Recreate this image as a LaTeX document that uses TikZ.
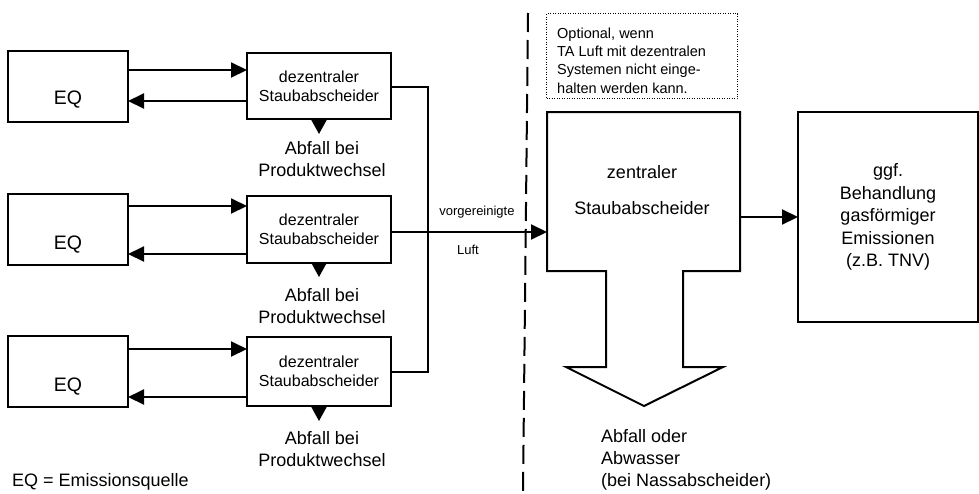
\documentclass[tikz,border=0pt]{standalone}
\usepackage{fontspec}
\setmainfont{Liberation Sans}
\usetikzlibrary{arrows.meta}
\begin{document}
\begin{tikzpicture}[x=1pt,y=-1pt,
  box/.style={draw, line width=2pt, inner sep=0pt, outer sep=0pt, anchor=north west},
  eqbox/.style={box, minimum width=120pt, minimum height=71pt},
  dzbox/.style={box, minimum width=144pt, minimum height=66pt, align=center, font=\fontsize{16}{19}\selectfont},
  arr/.style={line width=2pt, -{Triangle[length=16pt,width=15pt]}},
  ln/.style={line width=2pt},
  big/.style={font=\fontsize{18}{22}\selectfont, inner sep=0pt},
  small/.style={font=\fontsize{13}{16}\selectfont, inner sep=0pt},
  dashline/.style={line width=2pt, dash pattern=on 19pt off 8pt},
]
\useasboundingbox (0,0) rectangle (979,493);

% emission sources
\node[eqbox] (eq1) at (8,51) {};
\node[eqbox] (eq2) at (8,194) {};
\node[eqbox] (eq3) at (8,336) {};
\node[big, font=\fontsize{19.5}{22}\selectfont] (eqt1) at (68,100) {EQ};
\node[big, font=\fontsize{19.5}{22}\selectfont] (eqt2) at (68,245) {EQ};
\node[big, font=\fontsize{19.5}{22}\selectfont] (eqt3) at (68,387) {EQ};

% decentral dust separators
\node[dzbox] (dz1) at (247,53) {dezentraler\\Staubabscheider};
\node[dzbox, minimum height=67pt] (dz2) at (247,196) {dezentraler\\Staubabscheider};
\node[dzbox, minimum height=69pt] (dz3) at (247,337) {dezentraler\\Staubabscheider};

% helper heights
\coordinate (r1a) at (0,70);  \coordinate (r1b) at (0,101);
\coordinate (r2a) at (0,206); \coordinate (r2b) at (0,254);
\coordinate (r3a) at (0,349); \coordinate (r3b) at (0,397);

\draw[arr] (eq1.east |- r1a) -- (dz1.west |- r1a);
\draw[arr] (dz1.west |- r1b) -- (eq1.east |- r1b);
\draw[arr] (eq2.east |- r2a) -- (dz2.west |- r2a);
\draw[arr] (dz2.west |- r2b) -- (eq2.east |- r2b);
\draw[arr] (eq3.east |- r3a) -- (dz3.west |- r3a);
\draw[arr] (dz3.west |- r3b) -- (eq3.east |- r3b);

% waste outputs
\coordinate (w1) at (319,134);
\coordinate (w2) at (319,277);
\coordinate (w3) at (319,421);
\draw[line width=2pt, -{Triangle[length=15pt,width=16pt]}] (dz1.south) -- (w1);
\draw[line width=2pt, -{Triangle[length=15pt,width=16pt]}] (dz2.south) -- (w2);
\draw[line width=2pt, -{Triangle[length=15pt,width=16pt]}] (dz3.south) -- (w3);
\node[big, align=center] (ab1) at (322,159) {Abfall bei\\Produktwechsel};
\node[big, align=center] (ab2) at (322,306) {Abfall bei\\Produktwechsel};
\node[big, align=center] (ab3) at (322,449) {Abfall bei\\Produktwechsel};

% collecting line
\coordinate (b1) at (428,87);
\coordinate (b3) at (428,372);
\coordinate (bm) at (428,232);
\draw[ln, line join=miter] (dz1.east |- b1) -- (b1) -- (b3) -- (dz3.east |- b3);

% central separator
\node[anchor=north west, minimum width=193pt, minimum height=159pt, inner sep=0pt, outer sep=0pt] (zb) at (547,112) {};
\draw[ln, line join=miter] (zb.north west) -- (zb.north east) -- (zb.south east)
  -- (683,271) -- (683,367) -- (723,367) -- (644,406) -- (566,367) -- (606,367)
  -- (606,271) -- (zb.south west) -- cycle;
\node[big, align=center, font=\fontsize{18}{36}\selectfont] (zbt) at (642,190) {zentraler\\Staubabscheider};

\draw[arr] (dz2.east |- bm) -- (zb.west |- bm);
\node[small] (vg) at (477,212) {vorgereinigte};
\node[small] (lu) at (468,250) {Luft};

% treatment of gaseous emissions
\node[box, minimum width=180pt, minimum height=210pt, align=center, font=\fontsize{18}{22.5}\selectfont] (rb) at (798,112) {ggf.\\Behandlung\\gasförmiger\\Emissionen\\(z.B. TNV)};
\coordinate (g) at (0,217);
\draw[arr] (zb.east |- g) -- (rb.west |- g);

% optional note
\node[draw, line width=1pt, dash pattern=on 1pt off 1.5pt, anchor=north west, minimum width=191pt, minimum height=85pt, inner sep=0pt] (opt) at (546,13) {};
\node[anchor=west, align=left, inner sep=0pt, font=\fontsize{14.5}{18.3}\selectfont] (optt) at (557,60.5) {Optional, wenn\\TA Luft mit dezentralen\\Systemen nicht einge-\\halten werden kann.};

% waste water text
\node[big, anchor=west, align=left] (aw) at (601,460) {Abfall oder\\Abwasser\\(bei Nassabscheider)};

% legend
\node[big, anchor=west] (leg) at (12,482) {EQ = Emissionsquelle};

% dashed separator
\coordinate (d1) at (528,13);
\coordinate (d2) at (523,493);
\draw[dashline] (d1) -- (d2);
\end{tikzpicture}
\end{document}
